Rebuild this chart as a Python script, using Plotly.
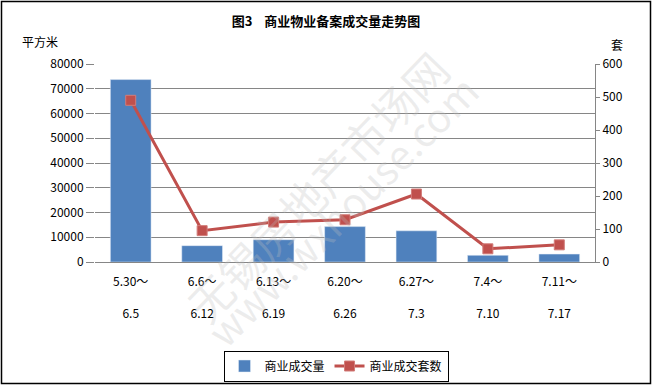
import plotly.graph_objects as go

categories = ["5.30～<br><br>6.5", "6.6～<br><br>6.12", "6.13～<br><br>6.19", "6.20～<br><br>6.26",
              "6.27～<br><br>7.3", "7.4～<br><br>7.10", "7.11～<br><br>7.17"]
area_values = [73700, 6600, 9000, 14300, 12600, 2700, 3200]
unit_values = [490, 95, 121, 128, 206, 40, 52]
left_ticks = [0, 10000, 20000, 30000, 40000, 50000, 60000, 70000, 80000]
right_ticks = [0, 100, 200, 300, 400, 500, 600]

W, H = 652, 386
L, R, T, B = 95, 595, 64, 262
def px(x): return (x - L) / (R - L)
def py(y): return (B - y) / (B - T)

FONT = "Noto Sans CJK SC"
xs = list(range(len(categories)))

fig = go.Figure()
fig.add_trace(go.Bar(x=xs, y=area_values, name="商业成交量", marker_color="#4F81BD",
                     width=0.57, yaxis="y"))
fig.add_trace(go.Scatter(x=xs, y=unit_values, name="商业成交套数", yaxis="y2",
                         mode="lines+markers", line=dict(color="#C0504D", width=3),
                         marker=dict(symbol="square", size=10, color="#C0504D",
                                     line=dict(color="#D27C79", width=1))))

fig.update_layout(
    width=W, height=H,
    margin=dict(l=L, r=W - R, t=T, b=H - B, autoexpand=False),
    paper_bgcolor="white", plot_bgcolor="white",
    font=dict(family=FONT, size=12, color="black"),
    showlegend=True,
    legend=dict(orientation="h", xref="container", yref="container",
                x=336 / W, y=1 - 366 / H, xanchor="center", yanchor="middle",
                bordercolor="black", borderwidth=1, font=dict(size=12), itemwidth=30,
                tracegroupgap=0),
    bargap=0.43,
    xaxis=dict(tickvals=xs, ticktext=categories, range=[-0.5, 6.5], showgrid=False,
               showline=True, linecolor="#868686", linewidth=1, ticks="",
               tickfont=dict(size=12), fixedrange=True, automargin=False,
               ticklabelstandoff=9),
    yaxis=dict(range=[0, 80000], tickvals=left_ticks, tickformat="d", showgrid=True,
               gridcolor="#868686", gridwidth=1, ticks="outside", ticklen=8,
               tickcolor="#868686", showline=False, zeroline=False, tickfont=dict(size=12),
               automargin=False),
    yaxis2=dict(range=[0, 600], tickvals=right_ticks, overlaying="y", side="right",
                showgrid=False, showline=True, linecolor="#868686", ticks="outside",
                ticklen=4, tickcolor="#868686", zeroline=False, tickfont=dict(size=12),
                automargin=False),
    title=dict(text="<b>图3    商业物业备案成交量走势图</b>", x=326 / W, xanchor="center",
               xref="container", yref="container",
               y=1 - 21 / H, yanchor="middle", font=dict(size=13)),
    shapes=[dict(type="rect", xref="paper", yref="paper", x0=px(1.5), x1=px(650.5),
                 y0=py(383.5), y1=py(1.5), line=dict(color="black", width=1.5), layer="below")],
    annotations=[
        dict(text="平方米", xref="paper", yref="paper", x=px(40), y=py(42), showarrow=False,
             xanchor="center", yanchor="middle", font=dict(size=12)),
        dict(text="套", xref="paper", yref="paper", x=px(617), y=py(44), showarrow=False,
             xanchor="center", yanchor="middle", font=dict(size=12)),
        dict(text="无锡房地产市场网", xref="paper", yref="paper", x=px(317), y=py(186),
             xanchor="center", yanchor="middle",
             showarrow=False, textangle=-46, font=dict(size=44, color="rgba(190,190,190,0.28)")),
        dict(text="www.wxhouse.com", xref="paper", yref="paper", x=px(342), y=py(210),
             xanchor="center", yanchor="middle",
             showarrow=False, textangle=-45, font=dict(size=40, color="rgba(190,190,190,0.28)")),
    ],
)

fig.write_html("out.html", config={"displayModeBar": False},
               post_script="document.body.style.margin='0';document.body.style.overflow='hidden';")
